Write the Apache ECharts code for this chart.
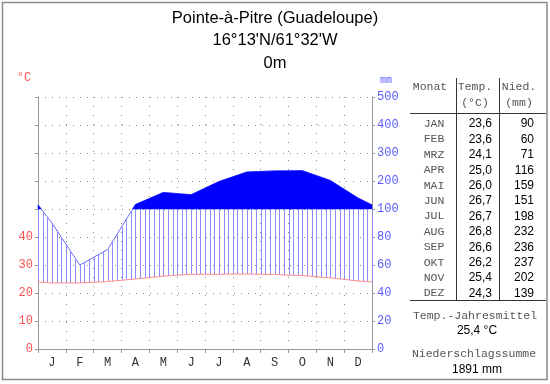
<!DOCTYPE html>
<html><head><meta charset="utf-8">
<script src="https://cdn.jsdelivr.net/npm/echarts@6/dist/echarts.min.js"></script>
<style>html,body{margin:0;padding:0;background:#fff}#c{width:550px;height:384px}</style>
</head><body><div id="c"></div>
<script>
// ---- data ----
const titleLines = ['Pointe-à-Pitre (Guadeloupe)', "16°13'N/61°32'W", '0m'];
const monthLetters = ['J','F','M','A','M','J','J','A','S','O','N','D'];
const monthNames = ['JAN','FEB','MRZ','APR','MAI','JUN','JUL','AUG','SEP','OKT','NOV','DEZ'];
const temps = [23.6,23.6,24.1,25.0,26.0,26.7,26.7,26.8,26.6,26.2,25.4,24.3];
const precip = [90,60,71,116,159,151,198,232,236,237,202,139];
const tempTickLabels = [0,10,20,30,40];
const precipTickLabels = [0,20,40,60,80,100,200,300,400,500];

// ---- scale helpers (Walter-Lieth: 10°C = 20mm, above 100mm 10°C = 100mm) ----
function mmToU(mm){ return mm <= 100 ? mm/2 : 50 + (mm-100)/10; }
function uToMm(u){ return u <= 50 ? u*2 : 100 + (u-50)*10; }
const edgeP = (precip[11]+precip[0])/2;
const edgeT = (temps[11]+temps[0])/2;
const xs = [0].concat(temps.map((_,i)=>i+0.5)).concat([12]);
const pU = [mmToU(edgeP)].concat(precip.map(mmToU)).concat([mmToU(edgeP)]);
const tU = [edgeT].concat(temps).concat([edgeT]);
function lerp(arrX, arrY, x){
  for (let i=0;i<arrX.length-1;i++){
    if (x>=arrX[i] && x<=arrX[i+1]){
      const t=(x-arrX[i])/(arrX[i+1]-arrX[i]);
      return arrY[i]+t*(arrY[i+1]-arrY[i]);
    }
  }
  return arrY[arrY.length-1];
}
const meanT = temps.reduce((a,b)=>a+b,0)/temps.length;
const sumP = precip.reduce((a,b)=>a+b,0);
const fmt1 = v => v.toFixed(1).replace('.',',');

function renderAll(params, api){
  if (params.dataIndex !== 0) return null;
  const children = [];
  const N = 6;
  for (let k=0;k<=12*N;k++){
    const x = k/N;
    const top = Math.min(lerp(xs,pU,x), 50);
    const bot = lerp(xs,tU,x);
    if (top > bot){
      const a = api.coord([x,bot]), b = api.coord([x,top]);
      const px = Math.round(a[0]) + 0.5;
      children.push({type:'line', shape:{x1:px,y1:a[1],x2:px,y2:b[1]}, style:{stroke:'#8c8cff', lineWidth:1}});
    }
  }
  // humid fill above 100mm: one polygon per run above the 100mm line
  let run = null;
  const runs = [];
  for (let i=0;i<xs.length;i++){
    const above = pU[i] > 50;
    if (above){
      if (!run){ run = []; 
        if (i>0){ const xc = xs[i-1] + (50-pU[i-1])/(pU[i]-pU[i-1])*(xs[i]-xs[i-1]); run.push([xc,50]); }
        else run.push([xs[i],50]);
      }
      run.push([xs[i],pU[i]]);
      if (i===xs.length-1){ run.push([xs[i],50]); runs.push(run); run=null; }
      else if (pU[i+1] <= 50){
        const xc = xs[i] + (50-pU[i])/(pU[i+1]-pU[i])*(xs[i+1]-xs[i]);
        run.push([xc,50]); runs.push(run); run=null;
      }
    }
  }
  runs.forEach(r=>{
    children.push({type:'polygon', shape:{points:r.map(p=>api.coord(p))}, style:{fill:'#0000ff', stroke:'#0000ff', lineWidth:0.5}});
  });
  return {type:'group', children};
}

const chart = echarts.init(document.getElementById('c'), null, {renderer:'canvas'});
const mono = 'Liberation Mono';
const sans = 'Liberation Sans';
const gridStyle = {color:'#999', width:1};

const graphic = [];
graphic.push({type:'rect', shape:{x:2.5,y:2.5,width:544.5,height:377}, style:{fill:null, stroke:'#8a8a8a', lineWidth:1.5}, silent:true});
titleLines.forEach((t,i)=>{
  graphic.push({type:'text', x:275, y:18+i*22.5, style:{text:t, font:'16.5px '+sans, fill:'#000', textAlign:'center', textVerticalAlign:'middle', align:'center', verticalAlign:'middle'}});
});
graphic.push({type:'text', x:24, y:78, style:{text:'°C', font:'12px '+mono, fill:'#ff5050', textAlign:'center', textVerticalAlign:'middle', align:'center', verticalAlign:'middle'}});
graphic.push({type:'text', x:386, y:80, style:{text:'mm', font:'10px '+mono, fill:'#5a5aff', textAlign:'center', textVerticalAlign:'middle', align:'center', verticalAlign:'middle'}});
// table
function txt(x,y,t,font,fill,al){
  graphic.push({type:'text', x:x, y:y, style:{text:t, font:font, fill:fill, textAlign:al, textVerticalAlign:'middle', align:al, verticalAlign:'middle'}});
}
const hdrFont = '11.5px '+mono, hdrCol = '#555';
txt(430,87,'Monat',hdrFont,hdrCol,'center');
txt(475,87,'Temp.',hdrFont,hdrCol,'center');
txt(475,103,'(°C)',hdrFont,hdrCol,'center');
txt(519,87,'Nied.',hdrFont,hdrCol,'center');
txt(519,103,'(mm)',hdrFont,hdrCol,'center');
monthNames.forEach((m,i)=>{
  const y = 124 + i*15.4;
  txt(434,y,m,hdrFont,hdrCol,'center');
  txt(492,y,fmt1(temps[i]),'12px '+sans,'#000','right');
  txt(534,y,String(precip[i]),'12px '+sans,'#000','right');
});
txt(475,316,'Temp.-Jahresmittel',hdrFont,hdrCol,'center');
txt(477,331,fmt1(meanT)+' °C','12px '+sans,'#000','center');
txt(474,354,'Niederschlagssumme',hdrFont,hdrCol,'center');
txt(477,370,sumP+' mm','12px '+sans,'#000','center');
function hline(x1,y,x2){ graphic.push({type:'line', shape:{x1:x1,y1:y,x2:x2,y2:y}, style:{stroke:'#333', lineWidth:1}}); }
function vline(x,y1,y2){ graphic.push({type:'line', shape:{x1:x,y1:y1,x2:x,y2:y2}, style:{stroke:'#333', lineWidth:1}}); }
hline(410,113.5,546);
hline(410,300.5,546);
vline(456.5,78,300);
vline(499.5,78,300);

const option = {
  animation:false,
  backgroundColor:'#fff',
  grid:{left:38, right:178, top:97, bottom:35, containLabel:false},
  xAxis:[
    {type:'value', min:0, max:12, interval:1, position:'bottom',
     axisLine:{show:true, lineStyle:gridStyle}, axisTick:{show:true, length:4, lineStyle:gridStyle},
     axisLabel:{show:false}, splitLine:{show:true, lineStyle:{color:'#888', type:[1,8]}}},
    {type:'category', data:monthLetters, position:'bottom', boundaryGap:true,
     axisLine:{show:false}, axisTick:{show:false},
     axisLabel:{color:'#333', fontFamily:mono, fontSize:12, margin:8}, splitLine:{show:false}}
  ],
  yAxis:[
    {type:'value', position:'left', min:0, max:90, interval:10,
     axisLine:{show:true, lineStyle:gridStyle}, axisTick:{show:true, length:3, lineStyle:gridStyle},
     axisLabel:{color:'#ff5050', fontFamily:mono, fontSize:12, margin:5,
       formatter:v=> tempTickLabels.indexOf(v)>=0 ? String(v) : ''},
     splitLine:{show:true, lineStyle:{color:'#888', type:[1,6]}}},
    {type:'value', position:'right', min:0, max:90, interval:10,
     axisLine:{show:true, lineStyle:gridStyle}, axisTick:{show:true, length:3, lineStyle:gridStyle},
     axisLabel:{color:'#5a5aff', fontFamily:mono, fontSize:12, margin:5,
       formatter:v=>{ const m=Math.round(uToMm(v)); return precipTickLabels.indexOf(m)>=0 ? String(m) : ''; }},
     splitLine:{show:false}}
  ],
  series:[
    {type:'custom', xAxisIndex:0, yAxisIndex:0, renderItem:renderAll, z:2,
     data: xs.map((x,i)=>[x,pU[i]]), encode:{x:0,y:1}, silent:true},
    {type:'line', xAxisIndex:0, yAxisIndex:0, data: xs.map((x,i)=>[x,tU[i]]), showSymbol:false, symbol:'none',
     lineStyle:{color:'#ff8c8c', width:1}, z:3, silent:true},
    {type:'line', xAxisIndex:0, yAxisIndex:0, data: xs.map((x,i)=>[x,pU[i]]), showSymbol:false, symbol:'none',
     lineStyle:{color:'#6a6aff', width:1}, z:1, silent:true}
  ],
  graphic: graphic
};
chart.setOption(option);
</script></body></html>
